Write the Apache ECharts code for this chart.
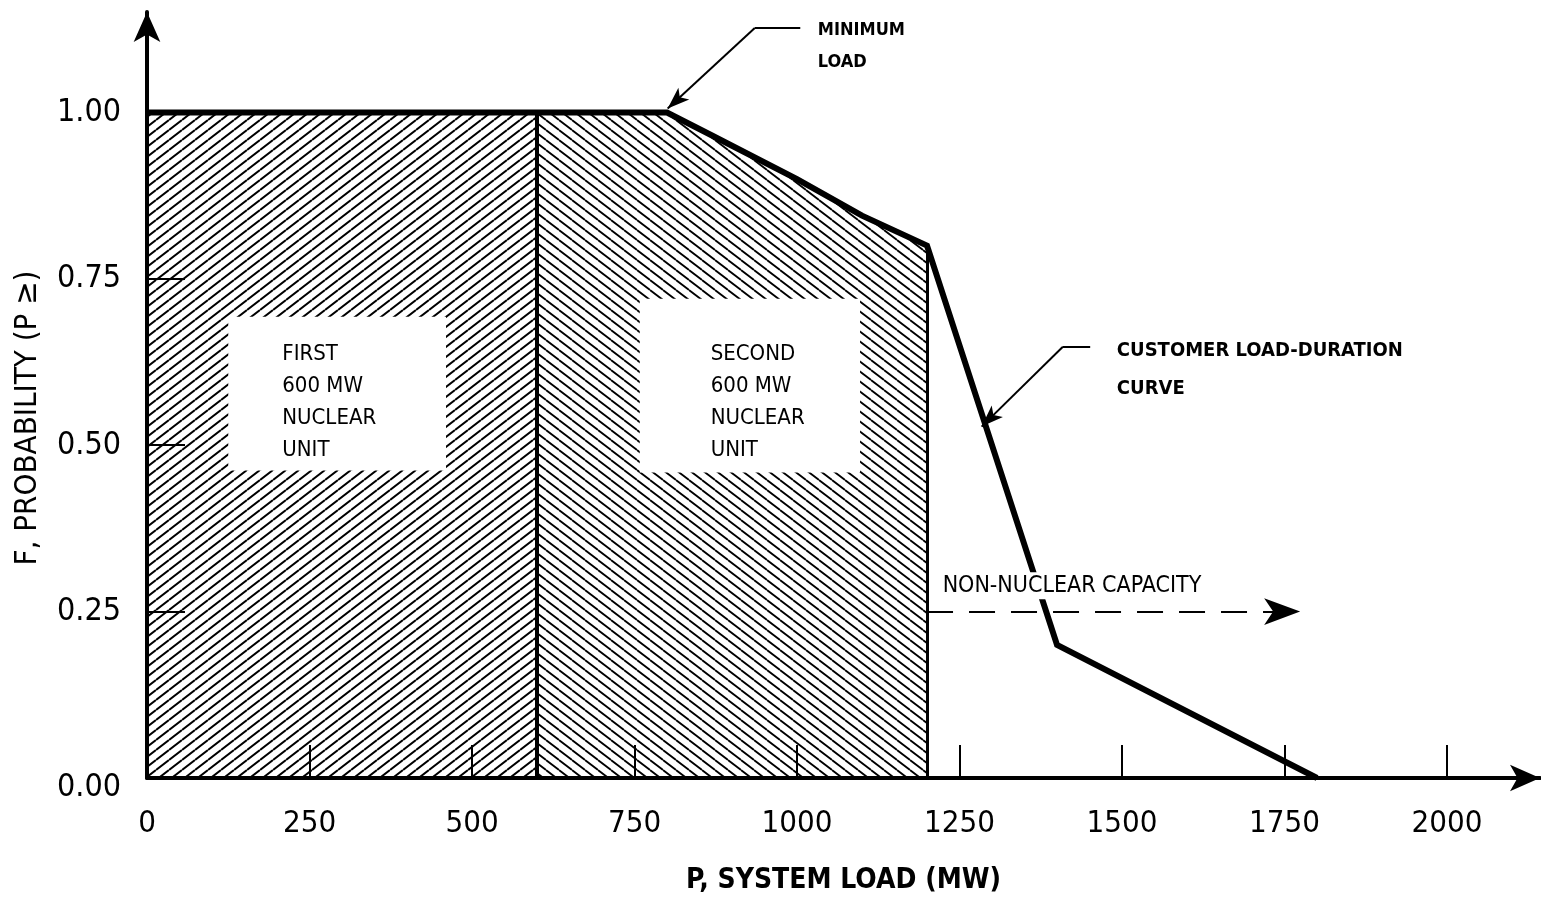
<!DOCTYPE html>
<html>
<head>
<meta charset="utf-8">
<script src="https://cdn.jsdelivr.net/npm/echarts@6/dist/echarts.min.js"></script>
<style>
html,body{margin:0;padding:0;background:#fff;}
#main{width:1541px;height:900px;}
</style>
</head>
<body>
<div id="main"></div>
<script>
// load-duration curve (MW, probability)
var curveX = [0, 800, 870, 1000, 1100, 1200, 1400, 1800];
var curveY = [1.00, 1.00, 0.965, 0.90, 0.845, 0.80, 0.20, 0.00];
// nuclear units, MW
var unitNames = ['FIRST\n600 MW\nNUCLEAR\nUNIT', 'SECOND\n600 MW\nNUCLEAR\nUNIT'];
var unitStart = [0, 600];
var unitEnd = [600, 1200];
var nonNuclearLevel = 0.25;
var xTicks = [0, 250, 500, 750, 1000, 1250, 1500, 1750, 2000];
var yTicks = [0, 0.25, 0.5, 0.75, 1.0];

var FONT = "'DejaVu Sans Condensed', 'Liberation Sans Narrow', 'DejaVu Sans', sans-serif";

function curveAt(x){
	for(var i=0;i<curveX.length-1;i++){
		if(x>=curveX[i] && x<=curveX[i+1]){
			return curveY[i]+(curveY[i+1]-curveY[i])*(x-curveX[i])/(curveX[i+1]-curveX[i]);
		}
	}
	return 0;
}

// area under the curve between two loads
function regionData(a,b){
	var d=[[a,curveAt(a)]];
	for(var i=0;i<curveX.length;i++){
		if(curveX[i]>a && curveX[i]<b) d.push([curveX[i],curveY[i]]);
	}
	d.push([b,curveAt(b)]);
	return d;
}

// hatch tile, dir '/' or '\'
function hatch(dir,w,h,lw){
	var c=document.createElement('canvas');
	c.width=w;c.height=h;
	var ctx=c.getContext('2d');
	ctx.strokeStyle='#000';
	ctx.lineWidth=lw;
	ctx.beginPath();
	for(var k=-1;k<=1;k++){
		if(dir=='/'){
			ctx.moveTo(0,h+k*h);ctx.lineTo(w,k*h);
		}else{
			ctx.moveTo(0,k*h);ctx.lineTo(w,h+k*h);
		}
	}
	ctx.stroke();
	return {image:c,repeat:'repeat'};
}

var curveData=[];
for(var i=0;i<curveX.length;i++) curveData.push([curveX[i],curveY[i]]);

var myChart = echarts.init(document.getElementById('main'));

var option = {
	backgroundColor:'#fff',
	animation:false,
	grid:{left:147,right:1,top:12,bottom:120},
	xAxis:{
		type:'value',min:0,max:2143,
		name:'P, SYSTEM LOAD (MW)',nameLocation:'middle',nameGap:89,
		nameTextStyle:{color:'#000',fontFamily:FONT,fontSize:28,fontWeight:'bold'},
		axisLine:{show:true,lineStyle:{color:'#000',width:4},symbol:['none','arrow'],symbolSize:[20,30]},
		axisTick:{show:true,inside:true,length:33,lineStyle:{color:'#000',width:2},customValues:xTicks.slice(1)},
		axisLabel:{color:'#000',fontFamily:FONT,fontSize:31,margin:30,customValues:xTicks,
			formatter:function(v){return String(v);}},
		splitLine:{show:false}
	},
	yAxis:{
		type:'value',min:0,max:1.151,
		name:'F, PROBABILITY (P \u2265)',nameLocation:'middle',nameGap:104,nameRotate:90,
		nameTextStyle:{color:'#000',fontFamily:FONT,fontSize:31,padding:[0,46,0,0]},
		axisLine:{show:true,lineStyle:{color:'#000',width:4},symbol:['none','arrow'],symbolSize:[20,30]},
		axisTick:{show:true,inside:true,length:38,lineStyle:{color:'#000',width:2},customValues:[0.25,0.5,0.75]},
		axisLabel:{color:'#000',fontFamily:FONT,fontSize:32,margin:26,customValues:yTicks,
			formatter:function(v){return v===0 ? '{z|'+v.toFixed(2)+'}' : v.toFixed(2);},
			rich:{z:{fontFamily:FONT,fontSize:32,color:'#000',padding:[20,0,0,0]}}},
		splitLine:{show:false}
	},
	series:[
		{
			// first unit
			type:'line',z:1,symbol:'none',
			data:regionData(unitStart[0],unitEnd[0]),
			lineStyle:{width:0},
			areaStyle:{color:hatch('/',13,10,2),opacity:1},
			markLine:{silent:true,symbol:'none',label:{show:false},
				lineStyle:{color:'#000',width:4,type:'solid'},
				data:[[{coord:[unitEnd[0],0]},{coord:[unitEnd[0],curveAt(unitEnd[0])]}]]}
		},
		{
			// second unit
			type:'line',z:1,symbol:'none',
			data:regionData(unitStart[1],unitEnd[1]),
			lineStyle:{width:0},
			areaStyle:{color:hatch('\\',13,10,1.8),opacity:1},
			markLine:{silent:true,symbol:'none',label:{show:false},
				lineStyle:{color:'#000',width:3,type:'solid'},
				data:[[{coord:[unitEnd[1],0]},{coord:[unitEnd[1],curveAt(unitEnd[1])]}]]}
		},
		{
			// white label boxes
			type:'line',z:3,symbol:'none',data:[[0,0]],
			markArea:{silent:true,z:3,
				itemStyle:{color:'#fff',opacity:1,borderWidth:0},
				label:{show:true,position:'insideLeft',color:'#000',fontFamily:FONT,fontSize:22,lineHeight:32,align:'left'},
				data:[
					[{xAxis:125,yAxis:0.462,name:unitNames[0],label:{distance:54,offset:[0,9]}},{xAxis:460,yAxis:0.693}],
					[{xAxis:758,yAxis:0.459,name:unitNames[1],label:{distance:71,offset:[0,17]}},{xAxis:1097,yAxis:0.72}]
				]}
		},
		{
			// load-duration curve
			type:'line',z:5,symbol:'none',
			data:curveData,
			lineStyle:{color:'#000',width:6,join:'miter'}
		},
		{
			// annotations
			type:'line',z:6,symbol:'none',data:[[0,0]],
			markLine:{silent:true,z:6,label:{show:false},
				lineStyle:{color:'#000',width:2,type:'solid'},
				symbolSize:[12,22],
				data:[
					[{coord:[1005,1.127],symbol:'none'},{coord:[935,1.127],symbol:'none'}],
					[{coord:[935,1.127],symbol:'none'},{coord:[801,1.006],symbol:'arrow'}],
					[{coord:[1451,0.648],symbol:'none'},{coord:[1409,0.648],symbol:'none'}],
					[{coord:[1409,0.648],symbol:'none'},{coord:[1284,0.528],symbol:'arrow'}],
					[{coord:[unitEnd[1],nonNuclearLevel],symbol:'none'},
					 {coord:[1774,nonNuclearLevel],symbol:'arrow',symbolSize:[20,36],lineStyle:{type:[26,16],width:2}}]
				]},
			markPoint:{silent:true,z:7,symbol:'circle',symbolSize:0,
				label:{show:true,position:'inside',align:'left',verticalAlign:'middle',color:'#000',fontFamily:FONT},
				data:[
					{coord:[1032,1.10],value:'MINIMUM\nLOAD',label:{formatter:'{c}',fontSize:18,fontWeight:'bold',lineHeight:32}},
					{coord:[1492,0.613],value:'CUSTOMER LOAD-DURATION\nCURVE',label:{formatter:'{c}',fontSize:20,fontWeight:'bold',lineHeight:38}},
					{coord:[1224,0.289],value:'NON-NUCLEAR CAPACITY',label:{formatter:'{c}',fontSize:23,backgroundColor:'#fff',padding:[2,0,2,0]}}
				]}
		}
	]
};
myChart.setOption(option);
</script>
</body>
</html>
